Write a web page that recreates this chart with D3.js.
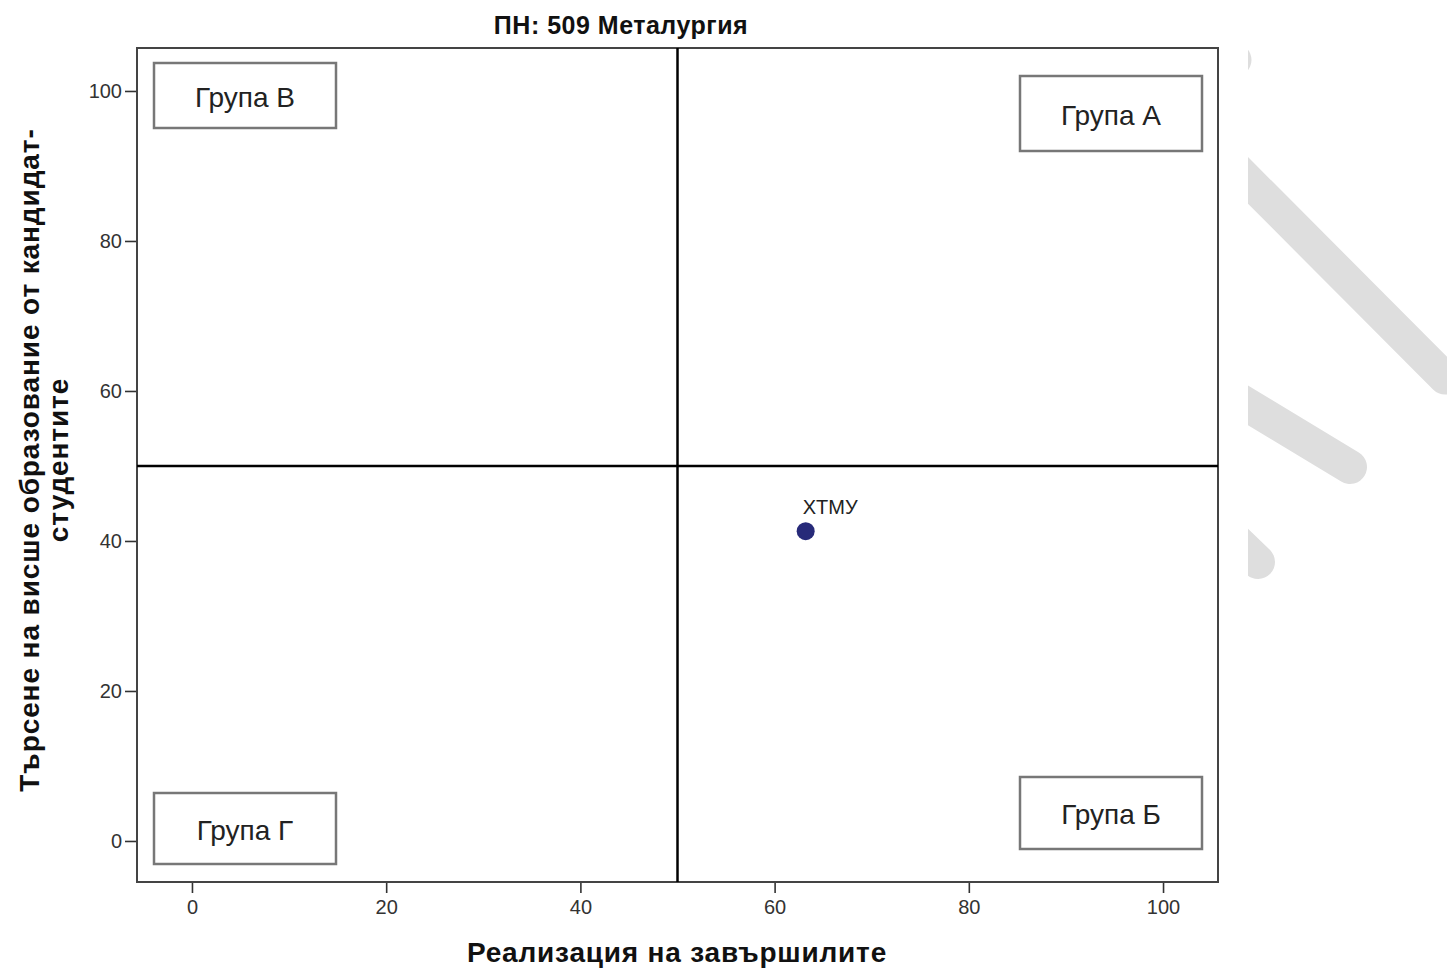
<!DOCTYPE html>
<html><head><meta charset="utf-8">
<script src="https://cdn.jsdelivr.net/npm/d3@7"></script>
<style>body{margin:0;background:#fff}svg{display:block}</style>
</head><body>
<svg id="c" width="1447" height="969"></svg>
<script>
const pointNames = ["ХТМУ"];
const pointX = [63.2];
const pointY = [41.3];
const xTicks = [0, 20, 40, 60, 80, 100];
const yTicks = [0, 20, 40, 60, 80, 100];
const groupLabels = ["Група В", "Група А", "Група Г", "Група Б"];
const xDomain = [-5.66, 105.66];
const yDomain = [-5.47, 105.73];
const threshold = 50;
const title = "ПН: 509 Металургия";
const xTitle = "Реализация на завършилите";
const yTitleLines = ["Търсене на висше образование от кандидат-", "студентите"];

const svg = d3.select("#c");
const L = 137, R = 1218, T = 48, B = 882;
const x = d3.scaleLinear().domain(xDomain).range([L, R]);
const y = d3.scaleLinear().domain(yDomain).range([B, T]);
const font = "'Liberation Sans', Arial, sans-serif";

// decorative grey stripes on the right
const deco = svg.append("g");
deco.append("clipPath").attr("id","dc").append("rect").attr("x",1248).attr("y",0).attr("width",200).attr("height",969);
const dg = deco.append("g").attr("clip-path","url(#dc)");
[[1100,-76,1235,60,33],[1100,32,1445,378,33],[1150,346,1350,467,34],[1200,506,1258,562,34]].forEach(s=>{
  dg.append("line").attr("x1",s[0]).attr("y1",s[1]).attr("x2",s[2]).attr("y2",s[3])
    .attr("stroke","#dedede").attr("stroke-width",s[4]).attr("stroke-linecap","round");
});

// axes
const xAxis = svg.append("g").attr("transform",`translate(0,${B})`)
  .call(d3.axisBottom(x).tickValues(xTicks).tickSize(11).tickPadding(7));
const yAxis = svg.append("g").attr("transform",`translate(${L},0)`)
  .call(d3.axisLeft(y).tickValues(yTicks).tickSize(12).tickPadding(3));
[xAxis,yAxis].forEach(a=>{
  a.select(".domain").remove();
  a.selectAll(".tick line").attr("stroke","#333").attr("stroke-width",1.6);
  a.selectAll(".tick text").attr("fill","#333").style("font-family",font).style("font-size","20px");
});

// frame
svg.append("rect").attr("x",L).attr("y",T).attr("width",R-L).attr("height",B-T)
  .attr("fill","none").attr("stroke","#444").attr("stroke-width",2);

// quadrant lines
svg.append("line").attr("x1",x(threshold)).attr("x2",x(threshold)).attr("y1",T).attr("y2",B)
  .attr("stroke","#000").attr("stroke-width",2.5);
svg.append("line").attr("x1",L).attr("x2",R).attr("y1",y(threshold)).attr("y2",y(threshold))
  .attr("stroke","#000").attr("stroke-width",2.5);

// group boxes
const boxes = [
  {x:L+17, y:T+15, w:182, h:65},
  {x:R-198, y:T+28, w:182, h:75},
  {x:L+17, y:B-89, w:182, h:71},
  {x:R-198, y:B-105, w:182, h:72}
];
boxes.forEach((b,i)=>{
  svg.append("rect").attr("x",b.x).attr("y",b.y).attr("width",b.w).attr("height",b.h)
    .attr("fill","#fff").attr("stroke","#777").attr("stroke-width",2.5);
  svg.append("text").attr("x",b.x+b.w/2).attr("y",b.y+b.h/2+11).attr("text-anchor","middle")
    .attr("fill","#222")
    .style("font-family",font).style("font-size","28px").text(groupLabels[i]);
});

// points
pointNames.forEach((n,i)=>{
  svg.append("circle").attr("cx",x(pointX[i])).attr("cy",y(pointY[i])).attr("r",9)
    .attr("fill","#272a79");
  svg.append("text").attr("x",x(pointX[i])-3).attr("y",y(pointY[i])-17)
    .attr("fill","#222").style("font-family",font).style("font-size","20px").text(n);
});

// titles
svg.append("text").attr("x",621).attr("y",34).attr("text-anchor","middle")
  .style("font-family",font).style("font-weight","bold").style("font-size","25px").attr("fill","#111")
  .style("letter-spacing","0.5px").text(title);
svg.append("text").attr("x",677).attr("y",962).attr("text-anchor","middle")
  .style("font-family",font).style("font-weight","bold").style("font-size","28px").attr("fill","#111")
  .style("letter-spacing","0.8px").text(xTitle);
yTitleLines.forEach((t,i)=>{
  svg.append("text").attr("transform",`translate(${39+i*29},460) rotate(-90)`).attr("text-anchor","middle")
    .style("font-family",font).style("font-weight","bold").style("font-size","28px").attr("fill","#111")
    .style("letter-spacing","0.9px").text(t);
});
</script>
</body></html>
